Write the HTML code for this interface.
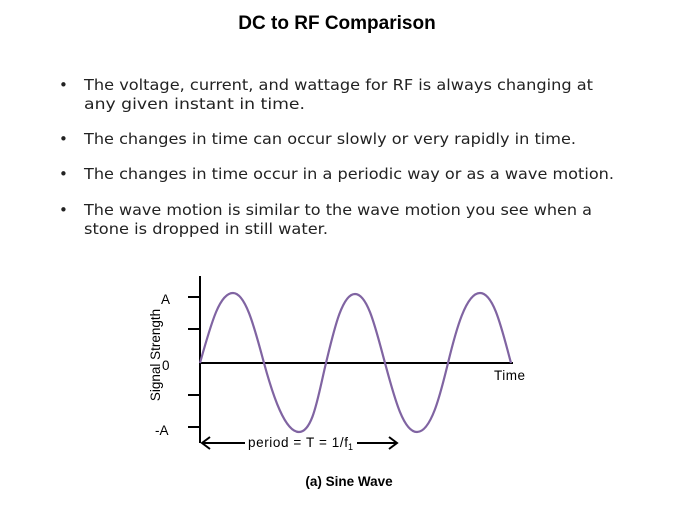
<!DOCTYPE html>
<html><head><style>body{margin:0;background:#fff}</style></head><body>
<svg width="674" height="506" xmlns="http://www.w3.org/2000/svg" style="display:block">
<text x="337" y="29" text-anchor="middle" font-family="Liberation Sans, sans-serif" font-weight="bold" font-size="19" fill="#000">DC to RF Comparison</text>
<g font-family="DejaVu Sans, sans-serif" font-size="15" fill="#222">
<text x="59" y="90">•</text><text x="84" y="90" textLength="509" lengthAdjust="spacingAndGlyphs">The voltage, current, and wattage for RF is always changing at</text>
<text x="84" y="109" textLength="221" lengthAdjust="spacingAndGlyphs">any given instant in time.</text>
<text x="59" y="144">•</text><text x="84" y="144" textLength="492" lengthAdjust="spacingAndGlyphs">The changes in time can occur slowly or very rapidly in time.</text>
<text x="59" y="179">•</text><text x="84" y="179" textLength="530" lengthAdjust="spacingAndGlyphs">The changes in time occur in a periodic way or as a wave motion.</text>
<text x="59" y="215">•</text><text x="84" y="215" textLength="508" lengthAdjust="spacingAndGlyphs">The wave motion is similar to the wave motion you see when a</text>
<text x="84" y="234" textLength="244" lengthAdjust="spacingAndGlyphs">stone is dropped in still water.</text>
</g>
<g stroke="#000" stroke-width="2" fill="none">
<line x1="200" y1="276" x2="200" y2="443"/>
<line x1="200" y1="363" x2="513" y2="363"/>
<line x1="188" y1="297" x2="200" y2="297"/>
<line x1="188" y1="329" x2="200" y2="329"/>
<line x1="188" y1="395" x2="200" y2="395"/>
<line x1="188" y1="427" x2="200" y2="427"/>
<line x1="203" y1="443" x2="245" y2="443"/>
<line x1="357" y1="443" x2="396" y2="443"/>
<polyline points="210,437 202,443 210,449"/>
<polyline points="389,437 397,443 389,449"/>
</g>
<path d="M200,363 C212,320 220,293 233,293 C246,293 255,330 264,363 C273,396 285,432 299,432 C313,432 318,396 326,363 C334,330 342,294 355,294 C368,294 376,330 385,363 C394,396 403,432 417,432 C431,432 440,396 448,363 C456,330 466,293 480,293 C494,293 502,330 511,363" fill="none" stroke="#8064a2" stroke-width="2.2"/>
<g font-family="Liberation Sans, sans-serif" font-size="13.5" fill="#000">
<text x="161" y="304">A</text>
<text x="162" y="370">0</text>
<text x="155" y="435">-A</text>
<text x="494" y="380" textLength="31">Time</text>
<text x="248" y="447" textLength="100">period = T = 1/f</text><text x="348" y="450" font-size="9">1</text>
<text transform="translate(160,355) rotate(-90)" text-anchor="middle">Signal Strength</text>
<text x="349" y="486" text-anchor="middle" font-weight="bold" font-size="13.5">(a) Sine Wave</text>
</g>
</svg>
</body></html>
